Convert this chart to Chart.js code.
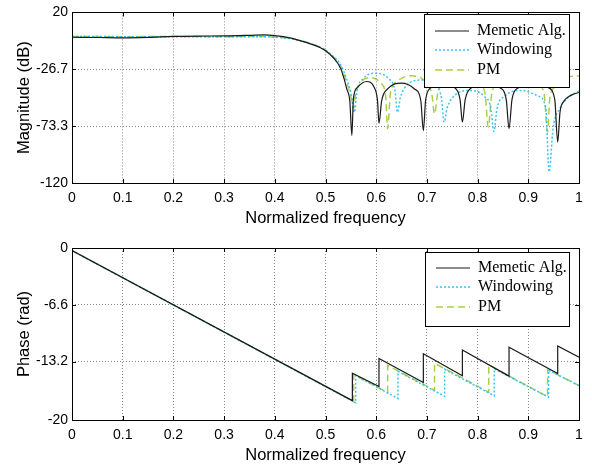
<!DOCTYPE html>
<html>
<head>
<meta charset="utf-8">
<script src="https://cdn.jsdelivr.net/npm/chart.js@4/dist/chart.umd.min.js"></script>
<style>
    body { margin: 0; background: #fff; }
    #wrap { position: relative; width: 592px; height: 468px; }
    canvas { position: absolute; left: 0; }
    #magChart { top: 0; }
    #phaseChart { top: 234px; }
</style>
</head>
<body>
<div id="wrap">
    <canvas id="magChart" width="592" height="234"></canvas>
    <canvas id="phaseChart" width="592" height="234"></canvas>
</div>
<script>
// Axis ticks
const freqTicks = [0, 0.1, 0.2, 0.3, 0.4, 0.5, 0.6, 0.7, 0.8, 0.9, 1];
const freqTickLabels = ['0', '0.1', '0.2', '0.3', '0.4', '0.5', '0.6', '0.7', '0.8', '0.9', '1'];
const magTicks = [-120, -73.3, -26.7, 20];
const magTickLabels = ['-120', '-73.3', '-26.7', '20'];
const phaseTicks = [-20, -13.2, -6.6, 0];
const phaseTickLabels = ['-20', '-13.2', '-6.6', '0'];

const seriesNames = ['Memetic Alg.', 'Windowing', 'PM'];

// Magnitude (dB)
const magFreqMemetic = [0, 0.05, 0.1, 0.15, 0.2, 0.25, 0.3, 0.35, 0.38, 0.4, 0.43, 0.45, 0.47, 0.49, 0.5, 0.515, 0.53, 0.537, 0.542, 0.548, 0.552,
    0.555, 0.563, 0.581, 0.596, 0.6025, 0.6055,
    0.6108, 0.623, 0.65, 0.675, 0.688, 0.693,
    0.6976, 0.7084, 0.7315, 0.7546, 0.7654, 0.77,
    0.7755, 0.7884, 0.816, 0.8436, 0.8565, 0.862,
    0.8678, 0.8812, 0.91, 0.9388, 0.9522, 0.958,
    0.9625, 0.97, 0.98, 0.99, 1];
const magMemetic = [-0.4, -0.6, -0.9, -0.5, 0.3, 0.6, 0.7, 1.2, 1.6, 1.0, -0.9, -3.2, -5.8, -9, -11.5, -17, -26, -35, -43, -53, -81,
    -51, -41.5, -36.7, -41.5, -52, -71,
    -52.5, -42.6, -38, -42.6, -52.5, -77,
    -51.5, -41.6, -37, -41.6, -51.5, -70,
    -51.5, -41.6, -37, -41.6, -51.5, -75.5,
    -51.5, -41.6, -37, -41.6, -51.5, -86.4,
    -62, -53, -49, -47, -45.7];

const magFreqWindow = [0, 0.1, 0.2, 0.3, 0.38, 0.4, 0.43, 0.45, 0.47, 0.49, 0.5, 0.515, 0.53, 0.542, 0.55, 0.557,
    0.562, 0.574, 0.597, 0.625, 0.637, 0.642,
    0.6475, 0.66, 0.688, 0.716, 0.7285, 0.734,
    0.7399, 0.7536, 0.783, 0.8124, 0.8261, 0.832,
    0.8385, 0.8538, 0.8865, 0.9192, 0.9345, 0.941,
    0.949, 0.9625, 0.9755, 0.9888, 1];
const magWindow = [0.2, 0.1, 0, 0, 0, -0.4, -1.5, -3.2, -5.6, -8.6, -11, -16, -23, -35, -46, -62,
    -44.4, -34.5, -29.9, -34.5, -44.4, -62,
    -50, -40.1, -35.5, -40.1, -50, -70,
    -58.5, -48.6, -44, -48.6, -58.5, -77.7,
    -58.5, -48.6, -44, -48.6, -58.5, -110.8,
    -74.9, -58.6, -51, -47, -44.3];

const magFreqPM = [0, 0.1, 0.2, 0.3, 0.38, 0.4, 0.43, 0.45, 0.47, 0.49, 0.5, 0.515, 0.53, 0.542, 0.55, 0.555,
    0.559, 0.5685, 0.589, 0.6091, 0.6185, 0.6226,
    0.628, 0.641, 0.669, 0.6965, 0.7095, 0.715,
    0.7214, 0.7362, 0.768, 0.7998, 0.8146, 0.821,
    0.828, 0.8444, 0.8795, 0.9146, 0.931, 0.938,
    0.942, 0.95, 0.962, 0.98, 1];
const magPM = [0.3, 0.1, 0.2, 0.1, 0.2, -0.3, -1.3, -3, -5.5, -8.8, -11, -16.5, -24, -38, -49, -59,
    -48, -38.1, -33.5, -38.1, -48, -75.5,
    -46.5, -36.6, -32, -36.6, -46.5, -63.3,
    -46.5, -36.6, -32, -36.6, -46.5, -74.2,
    -46.5, -36.6, -32, -36.6, -46.5, -78,
    -52, -42, -36.5, -33, -32];

// Phase (rad)
const phaseFreqMemetic = [0, 0.553, 0.553, 0.6055, 0.6055, 0.693, 0.693, 0.77, 0.77, 0.862, 0.862, 0.958, 0.958, 1];
const phaseMemetic = [-0.3, -17.75, -14.57, -16.1, -12.85, -15.65, -12.3, -14.85, -11.86, -14.9, -11.55, -14.6, -11.4, -12.7];
const phaseFreqWindow = [0, 0.5595, 0.5595, 0.643, 0.643, 0.735, 0.735, 0.833, 0.833, 0.94, 0.94, 1];
const phaseWindow = [-0.3, -18.0, -14.85, -17.5, -14.35, -17.25, -14.1, -17.2, -14.05, -17.35, -14.2, -16.0];
const phaseFreqPM = [0, 0.5555, 0.5555, 0.6226, 0.6226, 0.715, 0.715, 0.822, 0.822, 0.938, 0.938, 1];
const phasePM = [-0.3, -17.85, -14.7, -16.8, -13.65, -16.55, -13.4, -16.75, -13.6, -17.3, -14.15, -16.0];

// Styles
const lineColors = ['#1a1a1a', '#38c4f0', '#a9cf4a'];
const lineDashes = [[], [2, 2], [7, 4]];
const lineWidths = [1.2, 1.5, 1.5];

function toPoints(xs, ys) {
    return xs.map((x, i) => ({ x: x, y: ys[i] }));
}

// Frame around plot area with inward ticks (matlab style)
const framePlugin = {
    id: 'frame',
    afterDatasetsDraw(chart) {
        const ctx = chart.ctx;
        const a = chart.chartArea;
        const xs = chart.scales.x;
        const ys = chart.scales.y;
        ctx.save();
        ctx.strokeStyle = '#000';
        ctx.lineWidth = 1;
        ctx.beginPath();
        xs.ticks.forEach(t => {
            const px = Math.round(xs.getPixelForValue(t.value)) + 0.5;
            ctx.moveTo(px, a.bottom); ctx.lineTo(px, a.bottom - 4);
            ctx.moveTo(px, a.top); ctx.lineTo(px, a.top + 4);
        });
        ys.ticks.forEach(t => {
            const py = Math.round(ys.getPixelForValue(t.value)) + 0.5;
            ctx.moveTo(a.left, py); ctx.lineTo(a.left + 4, py);
            ctx.moveTo(a.right, py); ctx.lineTo(a.right - 4, py);
        });
        ctx.stroke();
        ctx.strokeRect(Math.round(a.left) + 0.5, Math.round(a.top) + 0.5,
            Math.round(a.right - a.left), Math.round(a.bottom - a.top));
        ctx.restore();
    }
};

// Boxed legend inside the plot
const boxLegendPlugin = {
    id: 'boxLegend',
    afterDraw(chart, args, opts) {
        const ctx = chart.ctx;
        ctx.save();
        ctx.fillStyle = '#fff';
        ctx.fillRect(opts.x, opts.y, opts.w, opts.h);
        ctx.strokeStyle = '#000';
        ctx.lineWidth = 1;
        ctx.strokeRect(opts.x + 0.5, opts.y + 0.5, opts.w, opts.h);
        chart.data.datasets.forEach((ds, i) => {
            const ly = opts.y + opts.rows[i];
            ctx.setLineDash(ds.borderDash);
            ctx.strokeStyle = ds.borderColor;
            ctx.lineWidth = ds.borderWidth;
            ctx.beginPath();
            ctx.moveTo(opts.x + 11, ly);
            ctx.lineTo(opts.x + 45, ly);
            ctx.stroke();
            ctx.setLineDash([]);
            ctx.fillStyle = '#000';
            ctx.font = '16px "Liberation Serif"';
            ctx.textBaseline = 'middle';
            ctx.fillText(ds.label, opts.x + 53, ly);
        });
        ctx.restore();
    }
};

function makeChart(id, cfg) {
    const datasets = cfg.series.map((pts, i) => ({
        label: seriesNames[i],
        data: pts,
        borderColor: lineColors[i],
        borderDash: lineDashes[i],
        borderWidth: lineWidths[i],
        pointRadius: 0,
        fill: false,
        cubicInterpolationMode: cfg.smooth ? 'monotone' : 'default',
        tension: 0
    }));

    return new Chart(document.getElementById(id).getContext('2d'), {
        type: 'line',
        data: { datasets: datasets },
        plugins: [framePlugin, boxLegendPlugin],
        options: {
            responsive: false,
            animation: false,
            layout: { padding: { top: cfg.padTop, right: 13, left: 0, bottom: 0 } },
            plugins: {
                legend: { display: false },
                tooltip: { enabled: false },
                boxLegend: cfg.legend
            },
            scales: {
                x: {
                    type: 'linear',
                    min: 0,
                    max: 1,
                    afterBuildTicks: s => { s.ticks = freqTicks.map(v => ({ value: v })); },
                    afterFit: s => { s.height = cfg.xHeight; },
                    ticks: {
                        padding: 7,
                        color: '#000',
                        font: { family: '"Liberation Sans", Arial', size: 14 },
                        callback: (v, i) => freqTickLabels[i],
                        maxRotation: 0
                    },
                    grid: { color: '#888', lineWidth: 1, drawTicks: false },
                    border: { display: false, dash: [1, 2] },
                    title: {
                        display: true,
                        text: 'Normalized frequency',
                        color: '#000',
                        font: { family: '"Liberation Sans", Arial', size: 16.5 },
                        padding: { top: 0, bottom: cfg.titlePad }
                    }
                },
                y: {
                    type: 'linear',
                    min: cfg.yTicks[0],
                    max: cfg.yTicks[cfg.yTicks.length - 1],
                    afterBuildTicks: s => { s.ticks = cfg.yTicks.map(v => ({ value: v })); },
                    afterFit: s => { s.width = 72; },
                    ticks: {
                        padding: 4,
                        color: '#000',
                        font: { family: '"Liberation Sans", Arial', size: 14 },
                        callback: (v, i) => cfg.yLabels[i]
                    },
                    grid: { color: '#888', lineWidth: 1, drawTicks: false },
                    border: { display: false, dash: [1, 2] },
                    title: {
                        display: true,
                        text: cfg.yTitle,
                        color: '#000',
                        font: { family: '"Liberation Sans", Arial', size: 16.5 },
                        padding: { top: 15, bottom: 0 }
                    }
                }
            }
        }
    });
}

makeChart('magChart', {
    series: [
        toPoints(magFreqMemetic, magMemetic),
        toPoints(magFreqWindow, magWindow),
        toPoints(magFreqPM, magPM)
    ],
    smooth: true,
    padTop: 11,
    xHeight: 51,
    titlePad: 6,
    yTicks: magTicks,
    yLabels: magTickLabels,
    yTitle: 'Magnitude (dB)',
    legend: { x: 424, y: 14, w: 145, h: 73, rows: [17, 36, 56] }
});

makeChart('phaseChart', {
    series: [
        toPoints(phaseFreqMemetic, phaseMemetic),
        toPoints(phaseFreqWindow, phaseWindow),
        toPoints(phaseFreqPM, phasePM)
    ],
    smooth: false,
    padTop: 14,
    xHeight: 48,
    titlePad: 3,
    yTicks: phaseTicks,
    yLabels: phaseTickLabels,
    yTitle: 'Phase (rad)',
    legend: { x: 425, y: 18, w: 144, h: 74, rows: [16, 35, 55] }
});
</script>
</body>
</html>
